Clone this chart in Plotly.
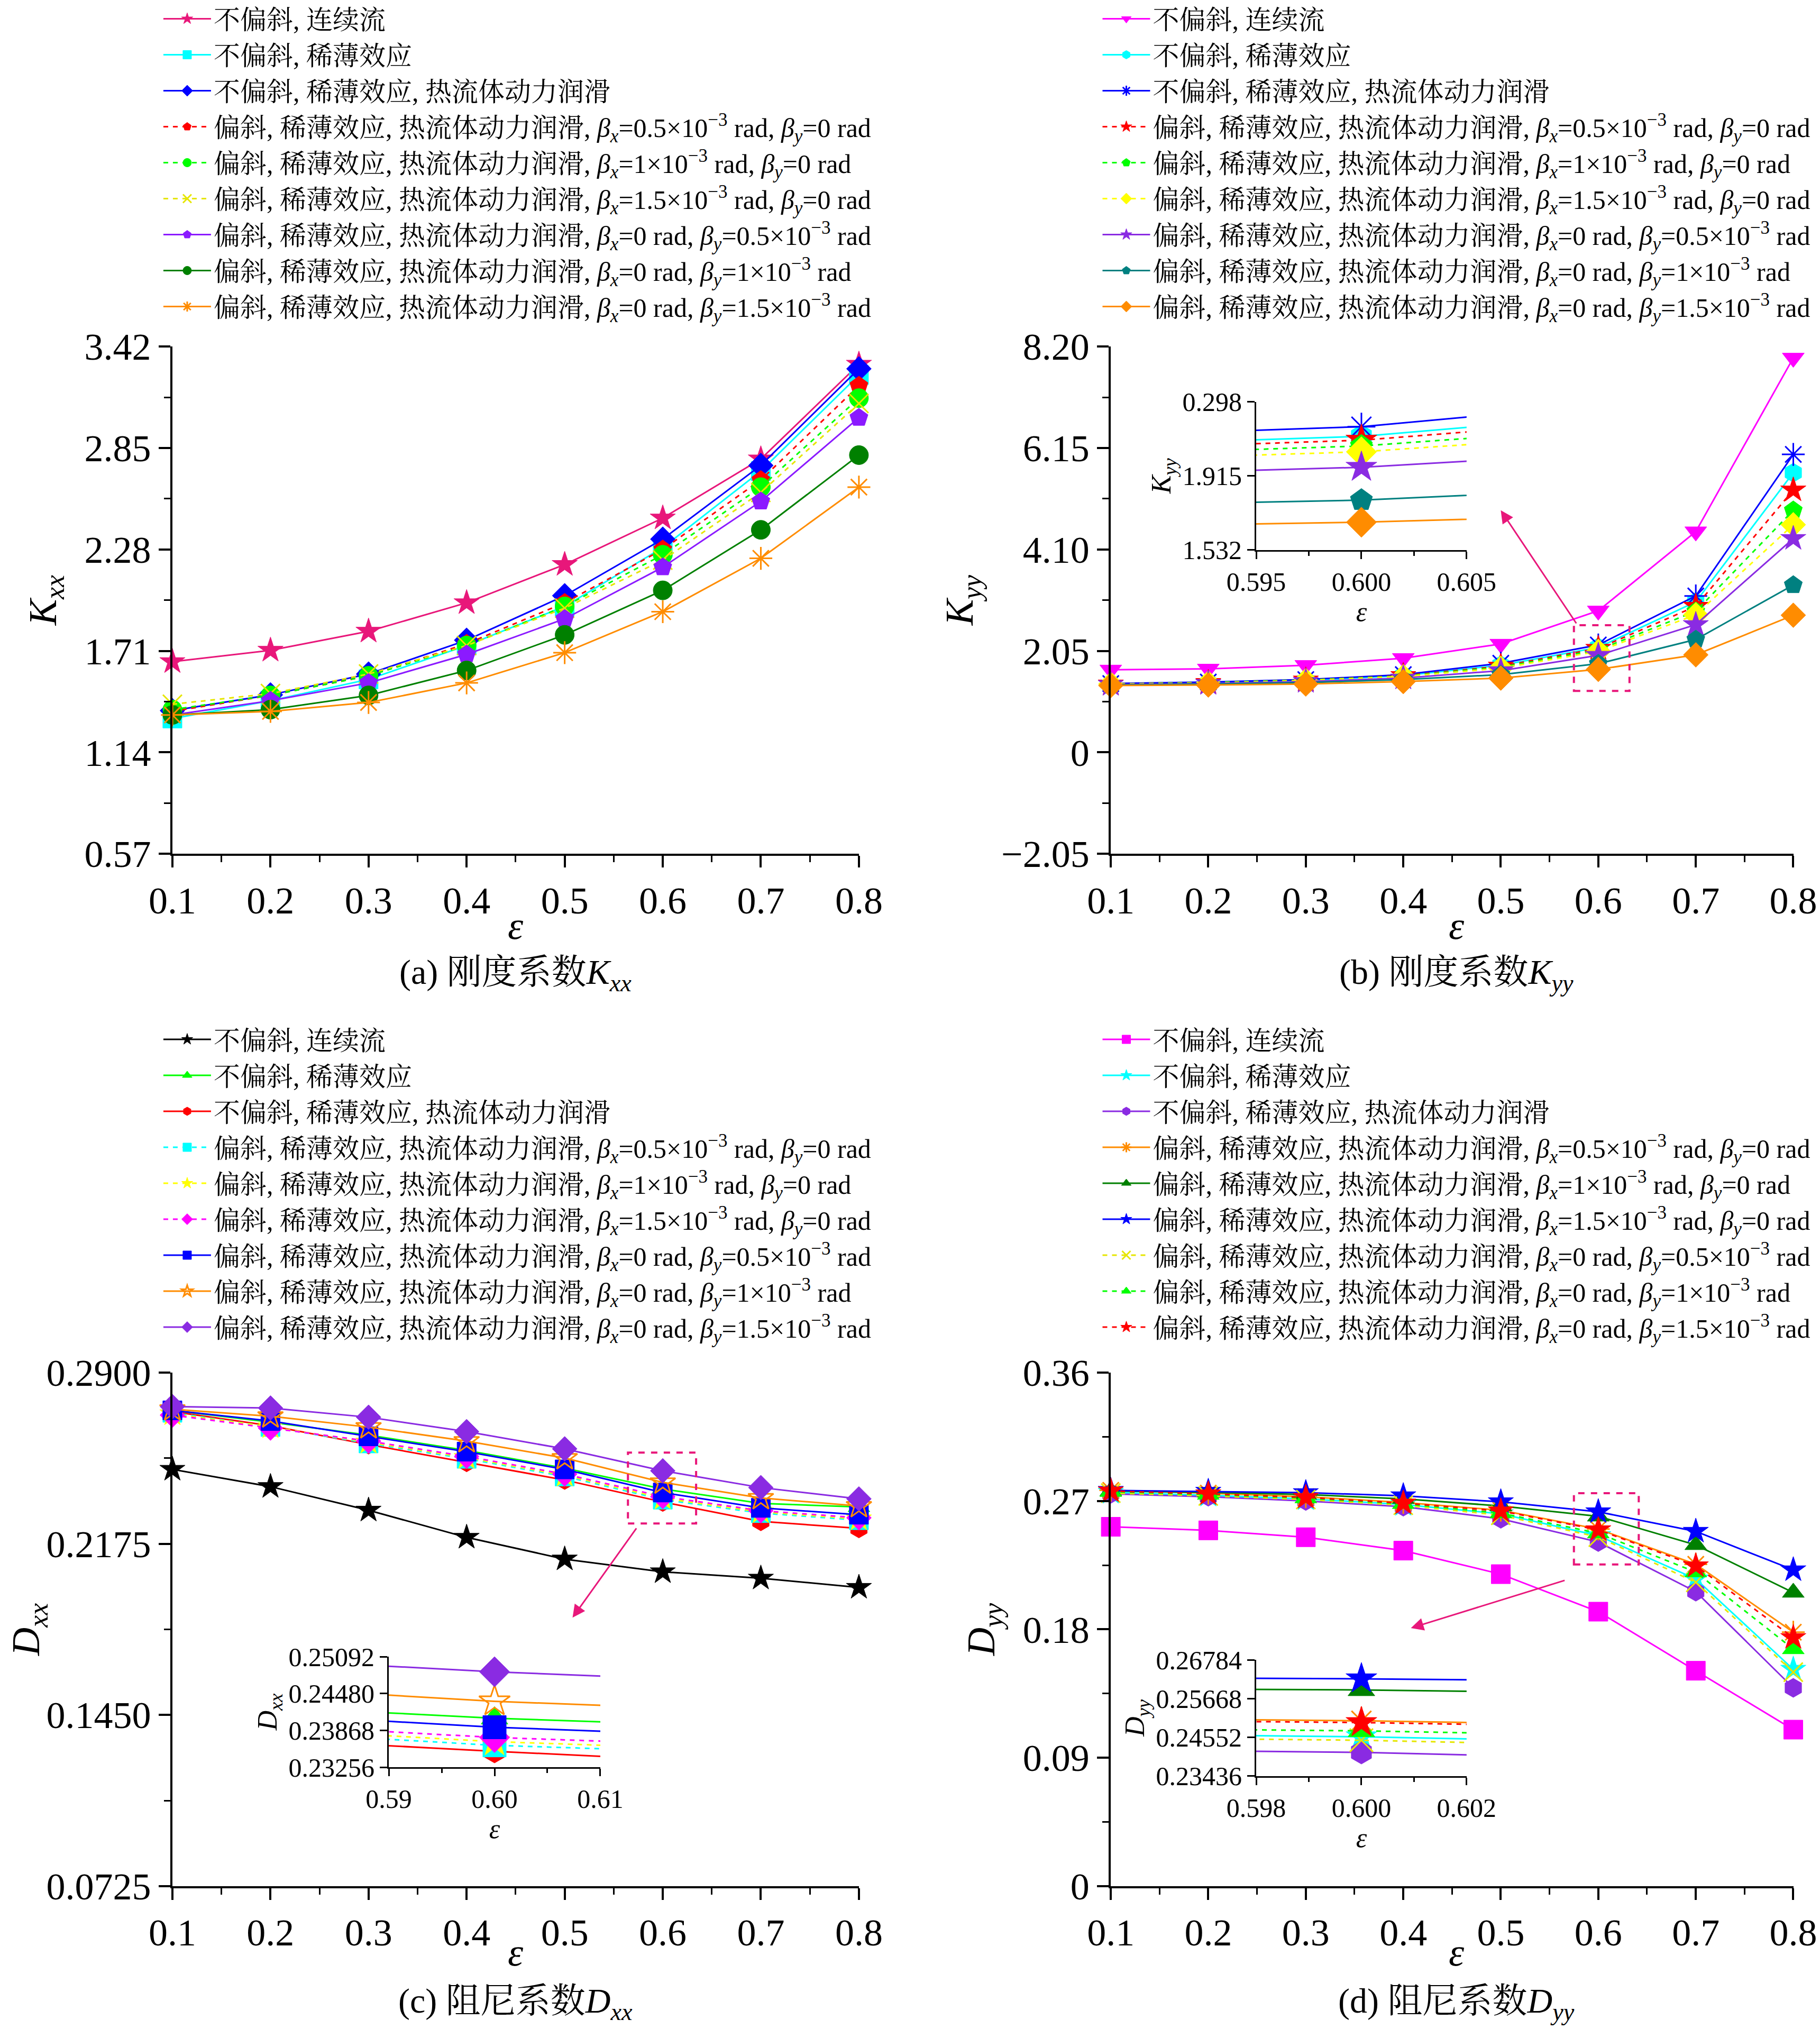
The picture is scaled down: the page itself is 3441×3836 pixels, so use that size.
import plotly.graph_objects as go

eps = [0.1, 0.2, 0.3, 0.4, 0.5, 0.6, 0.7, 0.8]

labels = [
    "不偏斜, 连续流",
    "不偏斜, 稀薄效应",
    "不偏斜, 稀薄效应, 热流体动力润滑",
    "偏斜, 稀薄效应, 热流体动力润滑, <i>β</i><sub><i>x</i></sub>=0.5×10<sup>−3</sup> rad, <i>β</i><sub><i>y</i></sub>=0 rad",
    "偏斜, 稀薄效应, 热流体动力润滑, <i>β</i><sub><i>x</i></sub>=1×10<sup>−3</sup> rad, <i>β</i><sub><i>y</i></sub>=0 rad",
    "偏斜, 稀薄效应, 热流体动力润滑, <i>β</i><sub><i>x</i></sub>=1.5×10<sup>−3</sup> rad, <i>β</i><sub><i>y</i></sub>=0 rad",
    "偏斜, 稀薄效应, 热流体动力润滑, <i>β</i><sub><i>x</i></sub>=0 rad, <i>β</i><sub><i>y</i></sub>=0.5×10<sup>−3</sup> rad",
    "偏斜, 稀薄效应, 热流体动力润滑, <i>β</i><sub><i>x</i></sub>=0 rad, <i>β</i><sub><i>y</i></sub>=1×10<sup>−3</sup> rad",
    "偏斜, 稀薄效应, 热流体动力润滑, <i>β</i><sub><i>x</i></sub>=0 rad, <i>β</i><sub><i>y</i></sub>=1.5×10<sup>−3</sup> rad",
]

# (a) Kxx
kxx = [
    [1.649, 1.713, 1.82, 1.98, 2.195, 2.456, 2.788, 3.32],
    [1.33, 1.43, 1.55, 1.74, 1.96, 2.29, 2.72, 3.26],
    [1.374, 1.463, 1.58, 1.77, 2.02, 2.338, 2.752, 3.295],
    [1.37, 1.46, 1.57, 1.75, 1.98, 2.28, 2.67, 3.20],
    [1.38, 1.46, 1.57, 1.74, 1.96, 2.25, 2.63, 3.13],
    [1.41, 1.47, 1.58, 1.74, 1.95, 2.22, 2.60, 3.10],
    [1.35, 1.43, 1.53, 1.69, 1.89, 2.18, 2.55, 3.02],
    [1.35, 1.38, 1.46, 1.60, 1.80, 2.05, 2.39, 2.81],
    [1.35, 1.37, 1.42, 1.53, 1.70, 1.93, 2.23, 2.63],
]
# (b) Kyy
kyy = [
    [1.667, 1.686, 1.76, 1.90, 2.19, 2.86, 4.46, 7.97],
    [1.36, 1.40, 1.45, 1.55, 1.76, 2.12, 3.04, 5.65],
    [1.39, 1.42, 1.47, 1.57, 1.80, 2.17, 3.16, 6.02],
    [1.38, 1.41, 1.46, 1.55, 1.74, 2.10, 2.95, 5.30],
    [1.38, 1.41, 1.46, 1.54, 1.72, 2.07, 2.85, 4.89],
    [1.38, 1.40, 1.45, 1.53, 1.70, 2.04, 2.78, 4.60],
    [1.37, 1.39, 1.43, 1.50, 1.65, 1.96, 2.58, 4.32],
    [1.36, 1.38, 1.41, 1.47, 1.57, 1.79, 2.28, 3.38],
    [1.35, 1.36, 1.38, 1.43, 1.50, 1.676, 1.97, 2.77],
]
# (c) Dxx
dxx = [
    [0.249, 0.2417, 0.2317, 0.2202, 0.211, 0.2056, 0.2029, 0.199],
    [0.274, 0.269, 0.2635, 0.257, 0.2495, 0.2407, 0.2346, 0.2331],
    [0.2735, 0.2675, 0.2595, 0.252, 0.2445, 0.2352, 0.227, 0.224],
    [0.273, 0.267, 0.260, 0.2535, 0.246, 0.2362, 0.2305, 0.2275],
    [0.2725, 0.267, 0.2605, 0.254, 0.2465, 0.2368, 0.231, 0.228],
    [0.272, 0.2665, 0.261, 0.2545, 0.247, 0.2375, 0.2315, 0.2285],
    [0.274, 0.2695, 0.263, 0.2565, 0.249, 0.2392, 0.2327, 0.2298],
    [0.2745, 0.2715, 0.2669, 0.261, 0.2538, 0.2435, 0.2369, 0.2335],
    [0.2756, 0.275, 0.2711, 0.265, 0.2577, 0.2484, 0.2413, 0.2365],
]
# (d) Dyy
dyy = [
    [0.2519, 0.2494, 0.2446, 0.2352, 0.2187, 0.1924, 0.151, 0.1097],
    [0.276, 0.274, 0.2715, 0.2675, 0.261, 0.2457, 0.2153, 0.152],
    [0.275, 0.273, 0.270, 0.266, 0.2575, 0.2412, 0.2064, 0.139],
    [0.2775, 0.2755, 0.273, 0.269, 0.2635, 0.2503, 0.2256, 0.178],
    [0.277, 0.276, 0.2745, 0.2715, 0.2665, 0.2592, 0.2392, 0.2058],
    [0.2774, 0.2767, 0.2758, 0.2736, 0.2694, 0.2624, 0.2487, 0.2217],
    [0.2755, 0.2735, 0.271, 0.267, 0.260, 0.2447, 0.213, 0.150],
    [0.2765, 0.2745, 0.272, 0.268, 0.2615, 0.2474, 0.2201, 0.1662],
    [0.277, 0.275, 0.2725, 0.2685, 0.263, 0.2498, 0.2245, 0.1742],
]

styles = {
    "a": [("star", "#e8177a", "solid"), ("square", "#00ffff", "solid"), ("diamond", "#0000ff", "solid"),
          ("pentagon", "#ff0000", "dash"), ("circle", "#00ff00", "dash"), ("x-thin-open", "#e6e600", "dash"),
          ("pentagon", "#8b1aff", "solid"), ("circle", "#008000", "solid"), ("asterisk-open", "#ff8c00", "solid")],
    "b": [("triangle-down", "#ff00ff", "solid"), ("hexagon", "#00ffff", "solid"), ("asterisk-open", "#0000ff", "solid"),
          ("star", "#ff0000", "dash"), ("pentagon", "#00ff00", "dash"), ("diamond", "#ffff00", "dash"),
          ("star", "#8a2be2", "solid"), ("pentagon", "#008080", "solid"), ("diamond", "#ff8c00", "solid")],
    "c": [("star", "#000000", "solid"), ("triangle-up", "#00ff00", "solid"), ("hexagon", "#ff0000", "solid"),
          ("square", "#00ffff", "dash"), ("star", "#ffff00", "dash"), ("diamond", "#ff00ff", "dash"),
          ("square", "#0000ff", "solid"), ("star-open", "#ff8c00", "solid"), ("diamond", "#8a2be2", "solid")],
    "d": [("square", "#ff00ff", "solid"), ("star", "#00ffff", "solid"), ("hexagon", "#8a2be2", "solid"),
          ("asterisk-open", "#ff8c00", "solid"), ("triangle-up", "#008000", "solid"), ("star", "#0000ff", "solid"),
          ("x-thin-open", "#e6e600", "dash"), ("triangle-up", "#00ff00", "dash"), ("star", "#ff0000", "dash")],
}

FONT = "Liberation Serif, Noto Serif CJK SC, Noto Sans CJK SC"
PINK = "#e8177a"

fig = go.Figure()

panels = [("a", kxx, "x", "y", "legend"), ("b", kyy, "x2", "y2", "legend2"),
          ("c", dxx, "x3", "y3", "legend3"), ("d", dyy, "x4", "y4", "legend4")]
insets = {"b": ("x5", "y5"), "c": ("x6", "y6"), "d": ("x7", "y7")}

for key, data, xa, ya, lg in panels:
    for i, vals in enumerate(data):
        sym, col, dash = styles[key][i]
        open_sym = sym.endswith("open")
        mk = dict(symbol=sym, size=36, color=col, line=dict(color=col, width=3 if open_sym else 1))
        fig.add_trace(go.Scatter(
            x=eps, y=vals, mode="lines+markers", name=labels[i], legend=lg,
            xaxis=xa, yaxis=ya, cliponaxis=False,
            line=dict(color=col, width=3, dash=dash), marker=mk))
        if key in insets:
            ix, iy = insets[key]
            fig.add_trace(go.Scatter(
                x=eps, y=vals, mode="lines+markers", showlegend=False,
                xaxis=ix, yaxis=iy, cliponaxis=True,
                line=dict(color=col, width=3, dash=dash),
                marker=dict(mk, size=44)))

axis_common = dict(showline=True, linecolor="black", linewidth=4, ticks="outside",
                   ticklen=22, tickwidth=4, tickcolor="black", showgrid=False, zeroline=False,
                   tickfont=dict(family=FONT, size=72, color="black"), mirror=False, automargin=False)
minor = dict(ticks="outside", ticklen=12, tickwidth=3, tickcolor="black", showgrid=False)

xdom_l, xdom_r = [0.0924, 0.4696], [0.6080, 0.9830]
ydom_t, ydom_b = [0.5813, 0.8313], [0.0725, 0.3256]

def xaxis(dom, anchor):
    return dict(axis_common, domain=dom, anchor=anchor, range=[0.1, 0.8],
                tickvals=eps, ticktext=[str(e) for e in eps],
                minor=dict(minor, tickvals=[0.15, 0.25, 0.35, 0.45, 0.55, 0.65, 0.75]))

def yaxis(dom, anchor, rng, tv, tt, title, mv):
    return dict(axis_common, domain=dom, anchor=anchor, range=rng, tickvals=tv, ticktext=tt,
                minor=dict(minor, tickvals=mv),
                title=dict(text=title, font=dict(family=FONT, size=74), standoff=30))

ka = [0.57, 1.14, 1.71, 2.28, 2.85, 3.42]
kb = [-2.05, 0, 2.05, 4.10, 6.15, 8.20]
kc = [0.0725, 0.145, 0.2175, 0.29]
kd = [0, 0.09, 0.18, 0.27, 0.36]

fig.update_layout(
    xaxis=xaxis(xdom_l, "y"), yaxis=yaxis(ydom_t, "x", [0.57, 3.42], ka, [f"{v:.2f}" for v in ka],
                                           "<i>K</i><sub><i>xx</i></sub>", [v + 0.285 for v in ka[:-1]]),
    xaxis2=xaxis(xdom_r, "y2"), yaxis2=yaxis(ydom_t, "x2", [-2.05, 8.2], kb,
                                             ["−2.05", "0", "2.05", "4.10", "6.15", "8.20"],
                                             "<i>K</i><sub><i>yy</i></sub>", [v + 1.025 for v in kb[:-1]]),
    xaxis3=xaxis(xdom_l, "y3"), yaxis3=yaxis(ydom_b, "x3", [0.0725, 0.29], kc,
                                             ["0.0725", "0.1450", "0.2175", "0.2900"],
                                             "<i>D</i><sub><i>xx</i></sub>", [v + 0.03625 for v in kc[:-1]]),
    xaxis4=xaxis(xdom_r, "y4"), yaxis4=yaxis(ydom_b, "x4", [0, 0.36], kd,
                                             ["0", "0.09", "0.18", "0.27", "0.36"],
                                             "<i>D</i><sub><i>yy</i></sub>", [v + 0.045 for v in kd[:-1]]),
)

def inset_axes(n, xdom, ydom, xr, xt, yr, yt, ytt, title):
    ins = dict(axis_common, ticklen=14, tickwidth=3, linewidth=3,
               tickfont=dict(family=FONT, size=50, color="black"))
    fig.layout[f"xaxis{n}"] = dict(ins, domain=xdom, anchor=f"y{n}", range=xr, tickvals=xt,
                                   ticktext=[f"{v:.3f}" if xr[1] - xr[0] < 0.015 else f"{v:.2f}" for v in xt],
                                   minor=dict(minor, ticklen=8, tickvals=[(xt[0] + xt[1]) / 2, (xt[1] + xt[2]) / 2]),
                                   title=dict(text="<i>ε</i>", font=dict(family=FONT, size=52), standoff=2))
    fig.layout[f"yaxis{n}"] = dict(ins, domain=ydom, anchor=f"x{n}", range=yr, tickvals=yt, ticktext=ytt,
                                   title=dict(text=title, font=dict(family=FONT, size=52), standoff=6))

inset_axes(5, [0.6879, 0.8035], [0.7310, 0.8040], [0.595, 0.605], [0.595, 0.600, 0.605],
           [1.532, 2.298], [1.532, 1.915, 2.298], ["1.532", "1.915", "0.298"], "<i>K</i><sub><i>yy</i></sub>")
inset_axes(6, [0.2113, 0.3275], [0.1311, 0.1856], [0.59, 0.61], [0.59, 0.60, 0.61],
           [0.23256, 0.25092], [0.23256, 0.23868, 0.24480, 0.25092],
           ["0.23256", "0.23868", "0.24480", "0.25092"], "<i>D</i><sub><i>xx</i></sub>")
inset_axes(7, [0.6879, 0.8035], [0.1267, 0.1840], [0.598, 0.602], [0.598, 0.600, 0.602],
           [0.23436, 0.26784], [0.23436, 0.24552, 0.25668, 0.26784],
           ["0.23436", "0.24552", "0.25668", "0.26784"], "<i>D</i><sub><i>yy</i></sub>")

# dashed zoom boxes and arrows
boxes = [("x2", "y2", 0.575, 0.632, 1.24, 2.57, 0.500, 4.89, 0.578, 2.59),
         ("x3", "y3", 0.5645, 0.634, 0.2261, 0.2561, 0.508, 0.1862, 0.5737, 0.2244),
         ("x4", "y4", 0.575, 0.6415, 0.2255, 0.2755, 0.4078, 0.1809, 0.5663, 0.2145)]
for xa, ya, x0, x1, y0, y1, tx, ty, sx, sy in boxes:
    fig.add_shape(type="rect", xref=xa, yref=ya, x0=x0, x1=x1, y0=y0, y1=y1,
                  line=dict(color=PINK, width=4, dash="dash"))
    fig.add_annotation(xref=xa, yref=ya, x=tx, y=ty, axref=xa, ayref=ya, ax=sx, ay=sy,
                       text="", showarrow=True, arrowhead=2, arrowsize=1.6, arrowwidth=3, arrowcolor=PINK)

captions = [(0.281, 0.5217, "(a) 刚度系数<i>K</i><sub><i>xx</i></sub>", 66),
            (0.798, 0.5217, "(b) 刚度系数<i>K</i><sub><i>yy</i></sub>", 66),
            (0.281, 0.0147, "(c) 阻尼系数<i>D</i><sub><i>xx</i></sub>", 66),
            (0.798, 0.0147, "(d) 阻尼系数<i>D</i><sub><i>yy</i></sub>", 66),
            (0.281, 0.546, "<i>ε</i>", 74), (0.798, 0.546, "<i>ε</i>", 74),
            (0.281, 0.040, "<i>ε</i>", 74), (0.798, 0.040, "<i>ε</i>", 74)]
for x, y, t, s in captions:
    fig.add_annotation(xref="paper", yref="paper", x=x, y=y, text=t, showarrow=False,
                       xanchor="center", yanchor="middle",
                       font=dict(family=FONT, size=s, color="black"))

leg = dict(font=dict(family=FONT, size=50, color="black"), bgcolor="rgba(0,0,0,0)",
           itemwidth=90, tracegroupgap=0, xanchor="left", yanchor="top")
fig.update_layout(
    legend=dict(leg, x=0.086, y=1.003),
    legend2=dict(leg, x=0.602, y=1.003),
    legend3=dict(leg, x=0.086, y=0.500),
    legend4=dict(leg, x=0.602, y=0.500),
    width=3441, height=3836, margin=dict(l=0, r=0, t=0, b=0, autoexpand=False),
    plot_bgcolor="white", paper_bgcolor="white",
    font=dict(family=FONT, color="black"),
)

fig.write_html("out.html")
